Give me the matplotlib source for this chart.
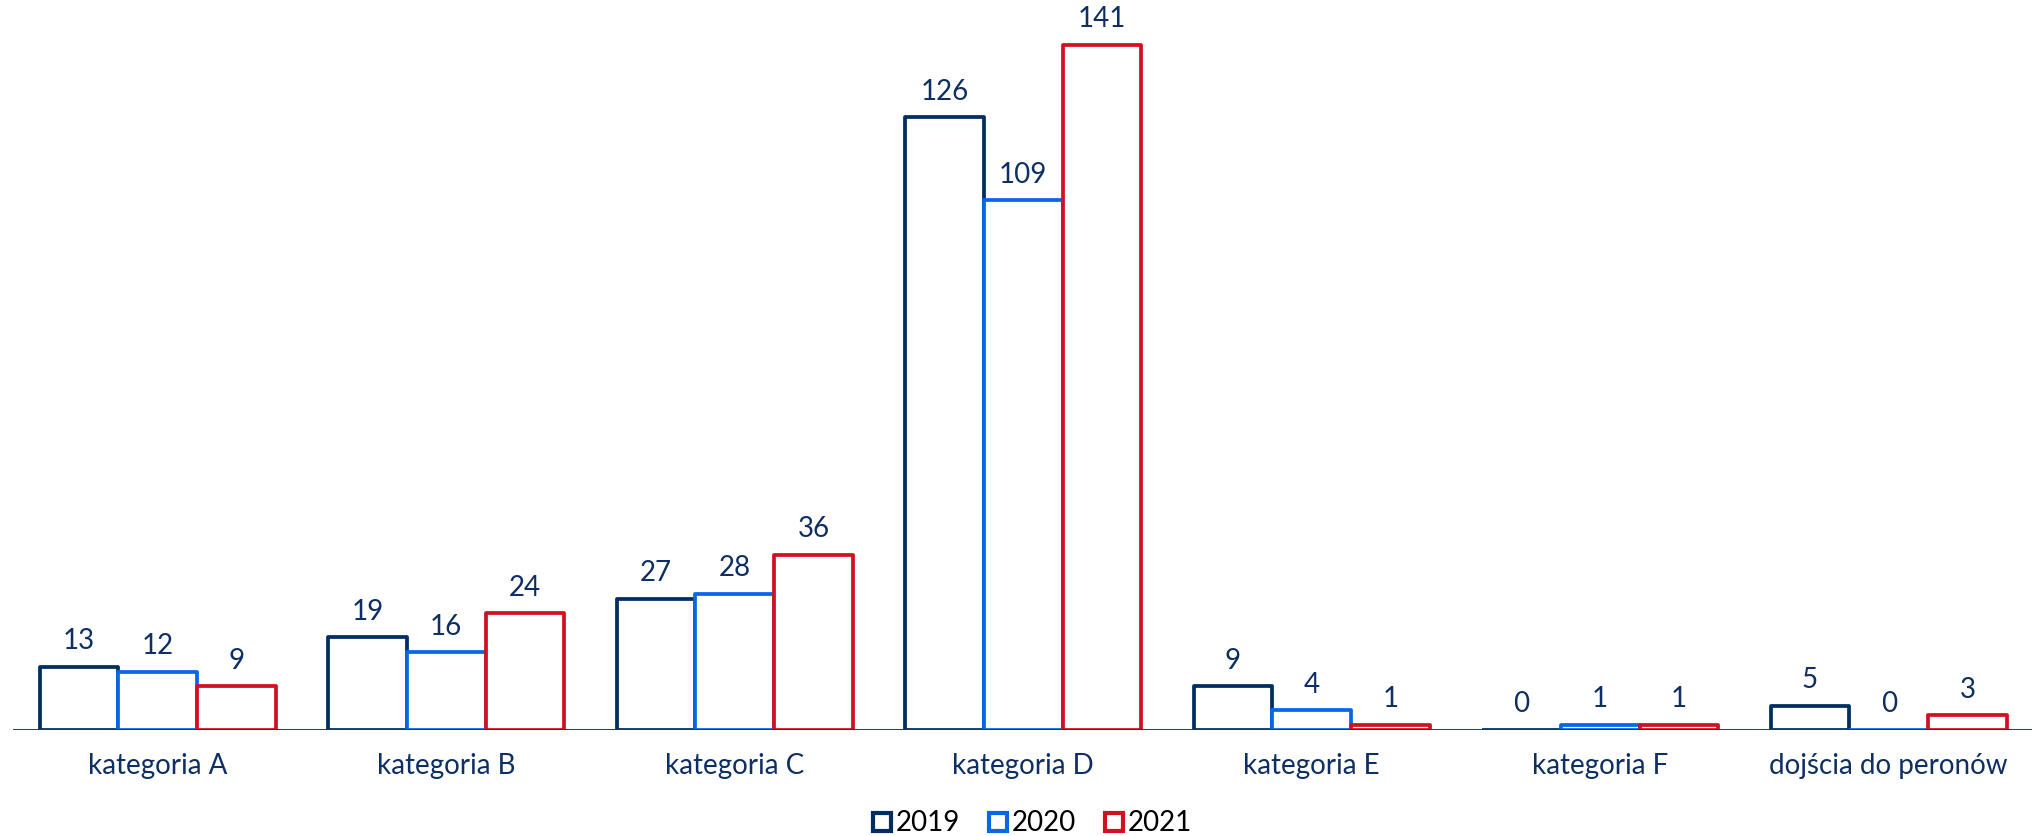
import numpy as np
import matplotlib.pyplot as plt
from matplotlib.lines import Line2D

plt.rcParams['font.family'] = ['Lato', 'DejaVu Sans']

# Dane
kategorie = ['kategoria A', 'kategoria B', 'kategoria C', 'kategoria D',
             'kategoria E', 'kategoria F', 'dojścia do peronów']
lata = ['2019', '2020', '2021']
v2019 = [13, 19, 27, 126, 9, 0, 5]
v2020 = [12, 16, 28, 109, 4, 1, 0]
v2021 = [9, 24, 36, 141, 1, 1, 3]
kolory = ['#002D62', '#0A66E8', '#D2101F']
granat = '#0E2F63'

fig = plt.figure(figsize=(20.33, 8.36), dpi=100)
ax = fig.add_axes([0.0066, 0.127, 0.9934, 0.872])

x = np.arange(len(kategorie))
szer = 0.273
for i, (vals, kol) in enumerate(zip([v2019, v2020, v2021], kolory)):
    pos = x + (i - 1) * szer
    ax.bar(pos, vals, width=szer, facecolor='white', edgecolor=kol,
           linewidth=2.7, joinstyle='round', zorder=2 + i * 0.1)
    for p, v in zip(pos, vals):
        ax.annotate(str(v), (p, v), xytext=(0, 9), textcoords='offset points',
                    ha='center', va='bottom', fontsize=20, color=granat)

ax.set_xlim(-0.5, len(kategorie) - 0.5)
ax.set_ylim(0, 150)
ax.axhline(0, color='#1F3A6B', linewidth=1.4, zorder=5)
for s in ax.spines.values():
    s.set_visible(False)
ax.set_yticks([])
ax.set_xticks(x)
ax.set_xticklabels(kategorie, fontsize=20, color=granat)
ax.tick_params(axis='x', length=0, pad=17)

uchwyty = [Line2D([], [], marker='s', linestyle='none', markersize=13,
                  markerfacecolor='white', markeredgecolor=k, markeredgewidth=3)
           for k in kolory]
fig.legend(uchwyty, lata, loc='center', bbox_to_anchor=(0.507, 0.015), ncol=3,
           frameon=False, fontsize=20, handletextpad=0.05, columnspacing=0.9,
           handlelength=0.9)

fig.savefig('out.png', dpi=100)
